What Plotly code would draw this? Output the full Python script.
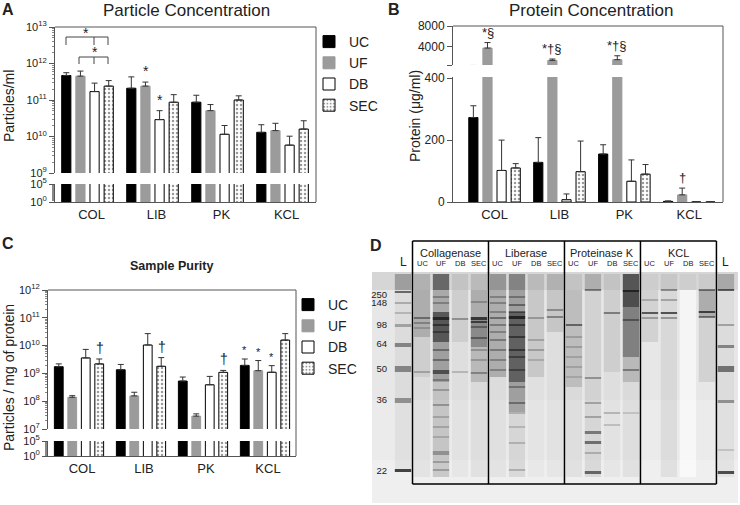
import math
import plotly.graph_objects as go

W, H = 740, 505


def px(x):
    return x / W


def py(y):
    return 1 - y / H


groups = ["COL", "LIB", "PK", "KCL"]
methods = ["UC", "UF", "DB", "SEC"]

# A: particle concentration (particles/ml); *_hi = top of error bar
part_uc = [4.7e11, 2.1e11, 8.7e10, 1.3e10]
part_uc_hi = [5.6e11, 4.3e11, 1.35e11, 2.1e10]
part_uf = [4.5e11, 2.4e11, 5.1e10, 1.45e10]
part_uf_hi = [6.2e11, 3.1e11, 7.5e10, 2.3e10]
part_db = [1.7e11, 2.9e10, 1.15e10, 5.8e9]
part_db_hi = [2.9e11, 5.1e10, 2.0e10, 1.02e10]
part_sec = [2.4e11, 8.7e10, 1.0e11, 1.6e10]
part_sec_hi = [3.4e11, 1.4e11, 1.3e11, 2.7e10]

# B: protein concentration (ug/ml)
prot_uc = [273, 128, 155, 2]
prot_uc_hi = [311, 208, 185, 3.5]
prot_uf = [3700, 1300, 1430, 23]
prot_uf_hi = [4770, 1570, 2200, 45]
prot_db = [102, 7.5, 67, 0]
prot_db_hi = [200, 26, 136, 0]
prot_sec = [110, 98, 90, 0]
prot_sec_hi = [124, 197, 121, 0]

# C: sample purity (particles / mg of protein)
pur_uc = [1.74e9, 1.35e9, 5.3e8, 1.94e9]
pur_uc_hi = [2.2e9, 2.1e9, 7.4e8, 3.3e9]
pur_uf = [1.38e8, 1.55e8, 2.9e7, 1.25e9]
pur_uf_hi = [1.58e8, 2.1e8, 3.5e7, 2.9e9]
pur_db = [3.6e9, 1.05e10, 3.9e8, 1.1e9]
pur_db_hi = [7.3e9, 2.7e10, 7.8e8, 1.9e9]
pur_sec = [2.2e9, 1.8e9, 1.09e9, 1.58e10]
pur_sec_hi = [3.3e9, 3.7e9, 1.28e9, 2.7e10]

# D: SDS-PAGE gel, lanes left to right; entries are (top, bottom, darkness)
# in migration units (0 = top of wells)
lane_labels = ["L", "UC", "UF", "DB", "SEC", "UC", "UF", "DB", "SEC",
               "UC", "UF", "DB", "SEC", "UC", "UF", "DB", "SEC", "L"]
gel_groups = ["Collagenase", "Liberase", "Proteinase K", "KCL"]
kda_labels = ["250", "148", "98", "64", "50", "36", "22"]
kda_pos = [23, 31, 53, 72, 97, 128, 199]
well_dark = [0.3, 0.2, 0.6, 0.1, 0.15, 0.35, 0.45, 0.15, 0.2,
             0.1, 0.22, 0.1, 0.7, 0.05, 0.08, 0.04, 0.06, 0.25]
ladder_l = [(18, 200, 0.05), (19, 21, 0.6), (30, 32, 0.25), (40, 42, 0.2),
            (52, 55, 0.3), (71, 75, 0.45), (94, 100, 0.45), (126, 131, 0.4),
            (197, 200, 0.8)]
col_uc = [(18, 65, 0.28), (65, 105, 0.12), (105, 205, 0.05), (45, 47, 0.45),
          (50, 52, 0.3), (55, 57, 0.2), (99, 101, 0.25)]
col_uf = [(18, 40, 0.3), (40, 70, 0.7), (70, 110, 0.35), (110, 205, 0.18),
          (24, 26, 0.3), (30, 32, 0.3), (45, 48, 0.8), (52, 54, 0.6),
          (59, 61, 0.5), (77, 79, 0.4), (87, 89, 0.4), (98, 102, 0.6),
          (107, 109, 0.3), (117, 119, 0.25), (132, 134, 0.3), (144, 146, 0.2),
          (154, 156, 0.2), (164, 166, 0.18), (179, 183, 0.3), (189, 191, 0.25),
          (197, 199, 0.25)]
col_db = [(18, 70, 0.12), (70, 205, 0.04), (46, 48, 0.35), (99, 101, 0.2)]
col_sec = [(18, 45, 0.28), (45, 75, 0.45), (75, 110, 0.22), (110, 205, 0.06),
           (29, 31, 0.25), (45, 48, 0.75), (49, 51, 0.7), (54, 56, 0.4),
           (65, 67, 0.45), (77, 79, 0.25), (87, 89, 0.22), (100, 102, 0.35)]
lib_uc = [(18, 105, 0.28), (105, 205, 0.05), (24, 26, 0.3), (30, 32, 0.3),
          (39, 41, 0.3), (45, 47, 0.45), (52, 54, 0.35), (59, 61, 0.3),
          (67, 69, 0.35), (77, 79, 0.35), (87, 89, 0.3), (97, 99, 0.3)]
lib_uf = [(18, 40, 0.35), (40, 110, 0.65), (110, 140, 0.35), (140, 205, 0.1),
          (24, 26, 0.35), (32, 34, 0.45), (39, 41, 0.5), (44, 47, 0.85),
          (52, 54, 0.6), (64, 66, 0.6), (77, 79, 0.6), (84, 86, 0.5),
          (97, 99, 0.45), (114, 116, 0.35), (130, 132, 0.4), (140, 142, 0.2),
          (154, 156, 0.18), (170, 172, 0.2), (197, 199, 0.22)]
lib_db = [(18, 105, 0.15), (105, 205, 0.03), (45, 47, 0.28), (67, 69, 0.22),
          (77, 79, 0.25), (87, 89, 0.18)]
lib_sec = [(18, 60, 0.16), (60, 205, 0.04), (37, 39, 0.35), (44, 46, 0.4)]
pk_uc = [(18, 115, 0.2), (115, 205, 0.06), (52, 54, 0.55), (64, 66, 0.2),
         (74, 76, 0.2), (84, 86, 0.18), (94, 96, 0.18), (104, 106, 0.15)]
pk_uf = [(18, 205, 0.1), (17, 19, 0.45), (105, 107, 0.35), (130, 132, 0.28),
         (144, 146, 0.28), (159, 162, 0.5), (169, 172, 0.55), (180, 182, 0.22),
         (199, 202, 0.6)]
pk_db = [(18, 100, 0.12), (100, 205, 0.04), (40, 42, 0.45), (140, 142, 0.22),
         (152, 154, 0.18)]
pk_sec = [(18, 35, 0.75), (35, 85, 0.5), (85, 110, 0.22), (110, 205, 0.06),
          (18, 20, 0.8), (47, 49, 0.45), (97, 99, 0.4), (140, 142, 0.15)]
kcl_uc = [(18, 70, 0.1), (27, 29, 0.22), (40, 42, 0.65), (45, 47, 0.3)]
kcl_uf = [(18, 205, 0.07), (17, 19, 0.4), (27, 29, 0.28), (40, 42, 0.7),
          (45, 47, 0.35)]
kcl_db = []
kcl_sec = [(18, 45, 0.28), (45, 110, 0.1), (17, 19, 0.5), (39, 41, 0.75),
           (44, 46, 0.5)]
ladder_r = [(18, 205, 0.05), (17, 19, 0.65), (52, 54, 0.3), (73, 76, 0.45),
            (94, 100, 0.55), (128, 131, 0.4), (177, 179, 0.15), (199, 202, 0.75)]
cleared_lanes = [15]
gel_lanes = [ladder_l, col_uc, col_uf, col_db, col_sec, lib_uc, lib_uf, lib_db,
             lib_sec, pk_uc, pk_uf, pk_db, pk_sec, kcl_uc, kcl_uf, kcl_db,
             kcl_sec, ladder_r]

FONT = "Liberation Sans, Arial, sans-serif"
AX = "#555"
INK = "#222"

styles = {
    "UC": dict(color="black", line_color="black"),
    "UF": dict(color="#9b9b9b", line_color="#9b9b9b"),
    "DB": dict(color="white", line_color="black"),
    "SEC": dict(color="white", line_color="black",
                pattern=dict(shape=".", fgcolor="#333", bgcolor="white",
                             size=4, solidity=0.3)),
}

fig = go.Figure()


def add_panel(vals, his, xa, ya_up, ya_lo, legend, err_low=False):
    for m, v, hi in zip(methods, vals, his):
        err = dict(type="data", symmetric=False,
                   array=[h - a for h, a in zip(hi, v)], arrayminus=[0] * len(v),
                   color="#333", thickness=1, width=3)
        st = styles[m]
        marker = dict(color=st["color"], line=dict(color=st["line_color"], width=1))
        if "pattern" in st:
            marker["pattern"] = st["pattern"]
        fig.add_trace(go.Bar(x=groups, y=v, name=m, marker=marker, error_y=err,
                             xaxis=xa, yaxis=ya_up, legend=legend or "legend",
                             showlegend=legend is not None))
        fig.add_trace(go.Bar(x=groups, y=v, name=m, marker=marker,
                             error_y=err if err_low else None,
                             xaxis=xa, yaxis=ya_lo, legend=legend or "legend",
                             showlegend=False))


add_panel([part_uc, part_uf, part_db, part_sec],
          [part_uc_hi, part_uf_hi, part_db_hi, part_sec_hi],
          "x", "y", "y2", "legend")
add_panel([prot_uc, prot_uf, prot_db, prot_sec],
          [prot_uc_hi, prot_uf_hi, prot_db_hi, prot_sec_hi],
          "x2", "y3", "y4", None, err_low=True)
add_panel([pur_uc, pur_uf, pur_db, pur_sec],
          [pur_uc_hi, pur_uf_hi, pur_db_hi, pur_sec_hi],
          "x3", "y5", "y6", "legend2")

# gel lanes
gx, gbase, gh, gcol = [], [], [], []
for i, d in enumerate(well_dark):
    gx.append(i); gbase.append(2); gh.append(16)
    gcol.append(f"rgba(30,30,30,{d})")
for i in cleared_lanes:
    gx.append(i); gbase.append(18); gh.append(187)
    gcol.append("rgba(255,255,255,0.6)")
for i, lane in enumerate(gel_lanes):
    for top, bot, d in lane:
        gx.append(i); gbase.append(top); gh.append(bot - top)
        gcol.append(f"rgba(25,25,25,{d})")
fig.add_trace(go.Bar(x=gx, y=gh, base=gbase, width=0.86, marker=dict(color=gcol, line_width=0),
                     xaxis="x4", yaxis="y7", showlegend=False, offsetgroup="gel"))


def sup(n):
    return f"10<sup>{n}</sup>"


def log_axis(lo, hi, y0, y1, anchor, vals=None):
    vals = vals or list(range(lo, hi + 1))
    return dict(type="log", range=[lo, hi], domain=[py(y0), py(y1)], anchor=anchor,
                tickvals=[10 ** k for k in vals], ticktext=[sup(k) for k in vals],
                ticks="outside", ticklen=5, tickcolor=AX, showline=True,
                linecolor=AX, linewidth=1, showgrid=False, zeroline=False,
                tickfont=dict(size=11, color=INK),
                minor=dict(ticks="outside", ticklen=2, tickcolor="#888", dtick="D1"))


def lin_axis(rng, vals, texts, y0, y1, anchor):
    return dict(type="linear", range=rng, domain=[py(y0), py(y1)], anchor=anchor,
                tickvals=vals, ticktext=texts, ticks="outside", ticklen=5,
                tickcolor=AX, showline=True, linecolor=AX, linewidth=1,
                showgrid=False, zeroline=False, tickfont=dict(size=12, color=INK))


def cat_axis(x0, x1, rng, anchor, shift=0):
    return dict(type="category", domain=[px(x0), px(x1)], range=rng, anchor=anchor,
                showline=True, linecolor=AX, linewidth=1, ticks="", showgrid=False,
                zeroline=False, tickfont=dict(size=13, color=INK), ticklabelshift=shift)


fig.update_layout(
    width=W, height=H, margin=dict(l=0, r=0, t=0, b=0, autoexpand=False),
    paper_bgcolor="white", plot_bgcolor="white",
    font=dict(family=FONT, color=INK),
    barmode="group", bargap=0.13, bargroupgap=0.35,
    xaxis=cat_axis(55, 316, [-0.5, 3.515], "y2", shift=4),
    yaxis=log_axis(9, 13, 173, 27, "x"),
    yaxis2=log_axis(0, 5, 202, 184, "x", vals=[0, 5]),
    xaxis2=cat_axis(453, 723, [-0.64, 3.52], "y4"),
    yaxis3=lin_axis([400, 8000], [400, 4000, 8000], ["", "4000", "8000"], 65, 26, "x2"),
    yaxis4=lin_axis([0, 404], [0, 200, 400], ["0", "200", "400"], 202, 77, "x2"),
    xaxis3=cat_axis(48, 296, [-0.5, 3.5], "y6", shift=3),
    yaxis5=log_axis(7, 12, 429, 290, "x3"),
    yaxis6=log_axis(0, 5, 456, 441, "x3", vals=[0, 5]),
    xaxis4=dict(domain=[px(388), px(740)], range=[-0.79, 17.74], visible=False,
                anchor="y7"),
    yaxis7=dict(domain=[py(503), py(272)], range=[231, 0], anchor="x4",
                tickvals=kda_pos, ticktext=kda_labels, ticks="", showline=False,
                showgrid=False, zeroline=False, tickfont=dict(size=9.5, color=INK)),
    legend=dict(x=px(309), y=py(26), xanchor="left", yanchor="top",
                font=dict(size=14, color=INK), tracegroupgap=0, bgcolor="rgba(0,0,0,0)"),
    legend2=dict(x=px(288), y=py(289), xanchor="left", yanchor="top",
                 font=dict(size=14, color=INK), tracegroupgap=0, bgcolor="rgba(0,0,0,0)"),
)

shapes = []


def seg(x0, y0, x1, y1, color=AX, width=1):
    shapes.append(dict(type="line", xref="paper", yref="paper", x0=px(x0), y0=py(y0),
                       x1=px(x1), y1=py(y1), line=dict(color=color, width=width)))


# frames (top and right edges)
seg(55, 27, 316, 27); seg(316, 27, 316, 202)
seg(453, 26, 723, 26); seg(723, 26, 723, 202)
seg(48, 290, 296, 290); seg(296, 290, 296, 456)

# significance brackets in A
seg(66, 37, 108, 37, "#444"); seg(66, 37, 66, 45, "#444"); seg(108, 37, 108, 45, "#444")
seg(94, 37, 94, 45, "#444")
seg(79, 57, 108, 57, "#444"); seg(79, 57, 79, 64, "#444"); seg(108, 57, 108, 64, "#444")
seg(94, 57, 94, 64, "#444")

# gel background
shapes.append(dict(type="rect", xref="paper", yref="paper", x0=px(372), x1=px(738),
                   y0=py(503), y1=py(272), fillcolor="#e7e7e7", line_width=0, layer="below"))
shapes.append(dict(type="rect", xref="paper", yref="paper", x0=px(372), x1=px(738),
                   y0=py(503), y1=py(400), fillcolor="#ebebeb", line_width=0, layer="below"))
shapes.append(dict(type="rect", xref="paper", yref="paper", x0=px(372), x1=px(738),
                   y0=py(503), y1=py(460), fillcolor="#efefef", line_width=0, layer="below"))
shapes.append(dict(type="rect", xref="paper", yref="paper", x0=px(372), x1=px(738),
                   y0=py(290), y1=py(272), fillcolor="#d6d6d6", line_width=0, layer="below"))
# lane group boxes
for b in [0.5, 4.5, 8.5, 12.5, 16.5]:
    shapes.append(dict(type="line", xref="x4", yref="paper", x0=b, x1=b,
                       y0=py(484), y1=py(241), line=dict(color="black", width=1.5)))
shapes.append(dict(type="line", xref="x4", yref="paper", x0=0.5, x1=16.5,
                   y0=py(241), y1=py(241), line=dict(color="black", width=1.5)))
shapes.append(dict(type="line", xref="x4", yref="paper", x0=0.5, x1=16.5,
                   y0=py(484), y1=py(484), line=dict(color="black", width=1.5)))
fig.update_layout(shapes=shapes)

ann = []


def text(x, y, t, size=12, bold=False, angle=0):
    ann.append(dict(xref="paper", yref="paper", x=px(x), y=py(y),
                    xanchor="center", yanchor="middle",
                    text=f"<b>{t}</b>" if bold else t, showarrow=False,
                    font=dict(size=size, color=INK), textangle=angle))


text(8, 9, "A", 16, True)
text(394, 9, "B", 16, True)
text(8, 243, "C", 16, True)
text(376, 245, "D", 16, True)
text(186, 10, "Particle Concentration", 17)
text(591, 10, "Protein Concentration", 17)
text(171, 266, "Sample Purity", 12.5, True)
text(9, 106, "Particles/ml", 14, angle=-90)
text(415, 116, "Protein (\u03bcg/ml)", 14, angle=-90)
text(9, 378, "Particles / mg of protein", 14, angle=-90)
text(86, 33, "*", 14)
text(95, 52, "*", 14)

offs_a = [-21, -7, 7, 21]
offs_c = [-20.5, -6.8, 6.8, 20.5]


def mark(xa, ya, gi, mi, yval, t, offs, log=True, size=14):
    ann.append(dict(xref=xa, yref=ya, x=gi, y=math.log10(yval) if log else yval,
                    xshift=offs[mi], yshift=1, xanchor="center", yanchor="bottom",
                    text=t, showarrow=False, font=dict(size=size, color=INK)))


mark("x", "y", 1, 1, part_uf_hi[1], "*", offs_a)
mark("x", "y", 1, 2, part_db_hi[1], "*", offs_a)
mark("x2", "y3", 0, 1, prot_uf_hi[0], "*\u00a7", offs_a, log=False, size=13)
mark("x2", "y3", 1, 1, prot_uf_hi[1], "*\u2020\u00a7", offs_a, log=False, size=13)
mark("x2", "y3", 2, 1, prot_uf_hi[2], "*\u2020\u00a7", offs_a, log=False, size=13)
mark("x2", "y4", 3, 1, prot_uf_hi[3], "\u2020", offs_a, log=False, size=13)
for gi in range(3):
    mark("x3", "y5", gi, 3, pur_sec_hi[gi], "\u2020", offs_c, size=14)
mark("x3", "y5", 3, 0, pur_uc_hi[3], "*", offs_c, size=11)
mark("x3", "y5", 3, 1, pur_uf_hi[3], "*", offs_c, size=11)
mark("x3", "y5", 3, 2, pur_db_hi[3], "*", offs_c, size=11)

# gel labels
for i, lab in enumerate(lane_labels):
    big = lab == "L"
    ann.append(dict(xref="x4", yref="paper", x=i, y=py(262 if big else 263), text=lab,
                    xanchor="center", yanchor="middle", showarrow=False,
                    font=dict(size=12 if big else 7.5, color=INK)))
for gi, g in enumerate(gel_groups):
    ann.append(dict(xref="x4", yref="paper", x=2.5 + 4 * gi, y=py(253), text=g,
                    xanchor="center", yanchor="middle", showarrow=False,
                    font=dict(size=11, color=INK)))

fig.update_layout(annotations=ann)
fig.write_html("out.html", config={"displayModeBar": False},
               post_script="document.body.style.margin='0px';")
